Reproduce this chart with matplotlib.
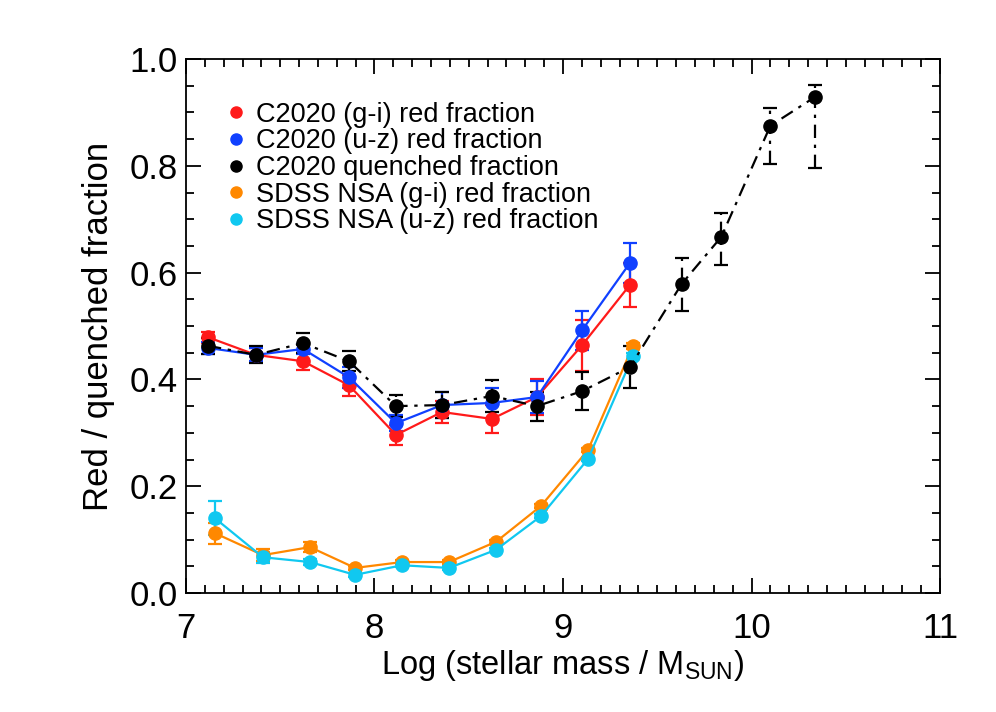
import numpy as np
import matplotlib
matplotlib.use('Agg')
import matplotlib.pyplot as plt
from matplotlib.lines import Line2D

plt.rcParams['font.family'] = ['Liberation Sans', 'DejaVu Sans']
plt.rcParams['mathtext.fontset'] = 'custom'
plt.rcParams['mathtext.rm'] = 'Liberation Sans'

# C2020 sample
x_c = [7.117, 7.371, 7.621, 7.865, 8.114, 8.358, 8.623, 8.862, 9.101, 9.355]
gi_c = [0.479, 0.446, 0.434, 0.389, 0.296, 0.339, 0.326, 0.367, 0.464, 0.577]
gi_c_err = [0.010, 0.012, 0.016, 0.020, 0.019, 0.020, 0.027, 0.033, 0.048, 0.041]
uz_c = [0.459, 0.446, 0.457, 0.404, 0.318, 0.352, 0.356, 0.367, 0.492, 0.618]
uz_c_err = [0.012, 0.012, 0.010, 0.020, 0.015, 0.024, 0.028, 0.030, 0.036, 0.037]

# quenched fraction (extends to higher mass)
x_q = [7.117, 7.371, 7.621, 7.865, 8.114, 8.358, 8.623, 8.862, 9.101, 9.355,
       9.63, 9.84, 10.10, 10.337]
q = [0.463, 0.446, 0.468, 0.434, 0.350, 0.352, 0.369, 0.350, 0.378, 0.423,
     0.579, 0.667, 0.875, 0.929]
q_lo = [0.015, 0.016, 0.019, 0.019, 0.021, 0.025, 0.030, 0.027, 0.035, 0.039,
        0.050, 0.053, 0.072, 0.134]
q_hi = [0.015, 0.016, 0.019, 0.019, 0.021, 0.025, 0.030, 0.027, 0.035, 0.039,
        0.048, 0.045, 0.034, 0.022]

# SDSS NSA
x_s = [7.154, 7.408, 7.658, 7.897, 8.146, 8.395, 8.645, 8.883, 9.133, 9.371]
gi_s = [0.112, 0.071, 0.086, 0.047, 0.058, 0.058, 0.096, 0.163, 0.268, 0.463]
gi_s_err = [0.020, 0.011, 0.010, 0.004, 0.004, 0.004, 0.004, 0.004, 0.004, 0.006]
uz_s = [0.140, 0.067, 0.058, 0.034, 0.052, 0.047, 0.081, 0.144, 0.251, 0.444]
uz_s_err = [0.032, 0.010, 0.006, 0.004, 0.004, 0.004, 0.004, 0.004, 0.004, 0.006]

labels = ['C2020 (g-i) red fraction', 'C2020 (u-z) red fraction',
          'C2020 quenched fraction', 'SDSS NSA (g-i) red fraction',
          'SDSS NSA (u-z) red fraction']
colors = ['#ff1a1a', '#1040ff', 'black', '#ff8800', '#10c8f0']

fig = plt.figure(figsize=(9.96, 7.12), dpi=100)
ax = fig.add_axes([0.1867, 0.1671, 0.7571, 0.75])

ms = 9.5
kw = dict(marker='o', markersize=ms, capsize=5, elinewidth=1.6, capthick=1.6, lw=1.6)
ax.errorbar(x_s, gi_s, yerr=gi_s_err, color=colors[3], **kw)
ax.errorbar(x_s, uz_s, yerr=uz_s_err, color=colors[4], **kw)
ax.errorbar(x_c, gi_c, yerr=gi_c_err, color=colors[0], **kw)
ax.errorbar(x_c, uz_c, yerr=uz_c_err, color=colors[1], **kw)
eb = ax.errorbar(x_q, q, yerr=[q_lo, q_hi], color='black', ls=(0, (6, 3, 1.5, 3)), **kw)
eb[2][0].set_linestyle((0, (6, 3, 1.5, 3)))

ax.set_xlim(7, 11)
ax.set_ylim(0, 1.0)
ax.set_xticks([7, 8, 9, 10, 11])
ax.set_yticks([0, 0.2, 0.4, 0.6, 0.8, 1.0])
ax.set_yticklabels(['0.0', '0.2', '0.4', '0.6', '0.8', '1.0'])
ax.set_xticks(np.arange(7, 11.001, 0.1), minor=True)
ax.set_yticks(np.arange(0, 1.001, 0.05), minor=True)
ax.tick_params(which='both', direction='in', top=True, right=True,
               labelsize=25, width=1.3)
ax.tick_params(axis='x', pad=14)
ax.tick_params(axis='y', pad=6)
ax.tick_params(which='major', length=11)
ax.tick_params(which='minor', length=5.5)
for s in ax.spines.values():
    s.set_linewidth(1.3)

ax.set_xlabel(r'Log (stellar mass / M$_{\rm SUN}$)', fontsize=23.5, labelpad=2)
ax.set_ylabel('Red / quenched fraction', fontsize=25, labelpad=10)

handles = [Line2D([], [], marker='o', ls='none', color=c, markersize=8) for c in colors]
ax.legend(handles, labels, loc='upper left', bbox_to_anchor=(0.03, 0.94),
          frameon=False, fontsize=19.5, handletextpad=0.15, labelspacing=0.02,
          handlelength=1.2, borderaxespad=0)

fig.savefig('out.png', dpi=100)
